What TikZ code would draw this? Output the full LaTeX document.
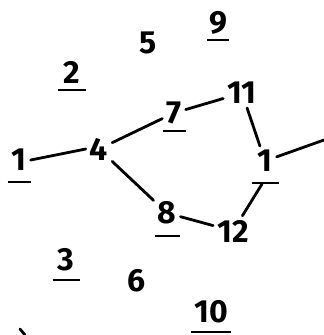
\documentclass[tikz,border=0pt]{standalone}
\usepackage{fontspec}
\setmainfont{Fira Sans}
\begin{document}
\begin{tikzpicture}[x=1pt,y=-1pt,
  num/.style={inner sep=4pt,font=\fontsize{32}{34}\selectfont\bfseries},
  link/.style={line width=2.8pt,line cap=round},
  uline/.style={line width=2.8pt}]
\useasboundingbox (0,0) rectangle (324,335);
\node[num] (n9) at (218,23) {9};
\node[num] (n5) at (148,43) {5};
\node[num] (n2) at (72,72) {2};
\node[num] (n11) at (242,93) {11};
\node[num] (n7) at (174,113) {7};
\node[num] (n4) at (99,149) {4};
\node[num] (n1a) at (19,160) {1};
\node[num] (n1b) at (265,161) {1};
\node[num] (n8) at (167,213) {8};
\node[num] (n12) at (233,231) {12};
\node[num] (n3) at (66,260) {3};
\node[num] (n6) at (137,281) {6};
\node[num] (n10) at (211,312) {10};
\coordinate (out) at (324,140);
% underlines
\foreach \n/\w/\d in {n9/22/17,n2/28/18,n7/23/18,n1a/23/22,n1b/27/22,n8/25/23,n3/27/20,n10/40/20}{
  \draw[uline] (\n.center) ++(-\w/2,\d) -- ++(\w,0);
}
% connectors
\draw[link] (n1a.east) -- (n4.west);
\draw[link] (n4) -- (n7);
\draw[link] (n4) -- (n8);
\draw[link] (n7) -- (n11);
\draw[link] (n11) -- (n1b);
\draw[link] (n1b) -- (out);
\draw[link] (n1b.south) ++(-3,8) coordinate (n1bs) (n1bs) -- (n12);
\draw[link] (n8) -- (n12);
% fragment at bottom-left edge
\coordinate (fa) at (20,329);
\coordinate (fb) at (25,335);
\draw[link] (fa) -- (fb);
\end{tikzpicture}
\end{document}
